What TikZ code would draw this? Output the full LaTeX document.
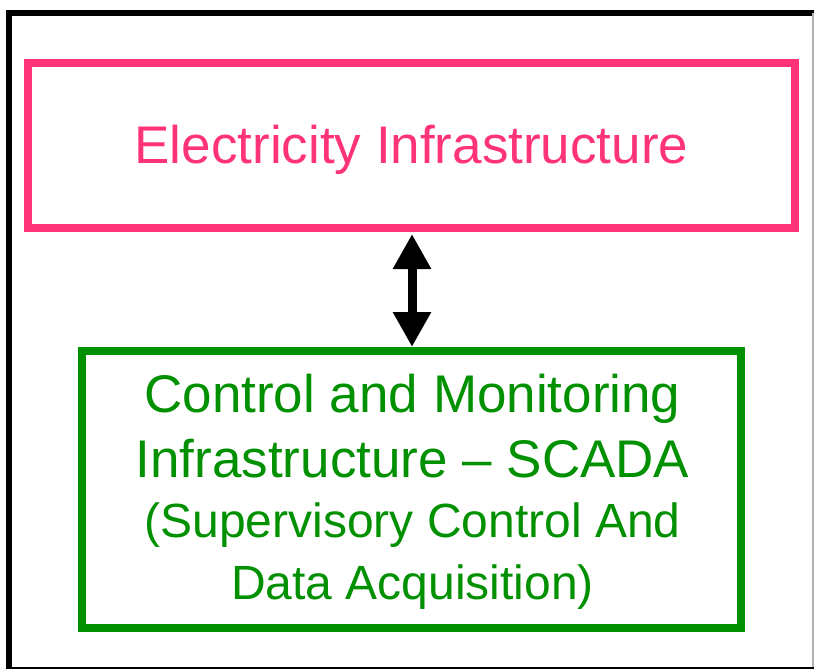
\documentclass[tikz,border=0pt]{standalone}
\usepackage{fontspec}
\setmainfont{Liberation Sans}
\usetikzlibrary{arrows.meta}
\definecolor{boxpink}{HTML}{FF3377}
\definecolor{boxgreen}{HTML}{009000}
\begin{document}
\begin{tikzpicture}[x=1pt,y=-1pt,
  framebox/.style={draw,line width=8pt,minimum width=#1,inner sep=0pt,outer sep=4pt},
  bigtext/.style={anchor=base,inner sep=0pt,font=\fontsize{53}{64}\selectfont},
  smalltext/.style={anchor=base,inner sep=0pt,font=\fontsize{48}{58}\selectfont},
  link/.style={line width=9pt,{Triangle[width=36pt,length=35pt]}-{Triangle[width=36pt,length=35pt]}}]
\useasboundingbox (0,0) rectangle (814,669);
% outer frame
\draw[line width=6pt] (9,669) -- (9,13) -- (814,13);
\draw[line width=1.5pt,gray!60] (813.2,13) -- (813.2,669);
\draw[line width=1.5pt] (9,668.2) -- (814,668.2);
% boxes
\node[framebox=767pt,minimum height=165pt,color=boxpink] (elec) at (411.5,145.5) {};
\node[framebox=659pt,minimum height=277pt,color=boxgreen] (scada) at (411.5,489.5) {};
% texts
\node[bigtext,text=boxpink] (t1) at (411.5,163) {Electricity Infrastructure};
\node[bigtext,text=boxgreen] (t2) at (412.5,412) {Control and Monitoring};
\node[bigtext,text=boxgreen] (t3) at (412.5,477) {Infrastructure -- SCADA};
\node[smalltext,text=boxgreen] (t4) at (412.5,537) {(Supervisory Control And};
\node[smalltext,text=boxgreen] (t5) at (412.5,599) {Data Acquisition)};
% connector
\draw[link] ([xshift=0.5pt,yshift=-2pt]elec.south) -- ([xshift=0.5pt]scada.north);
\end{tikzpicture}
\end{document}
